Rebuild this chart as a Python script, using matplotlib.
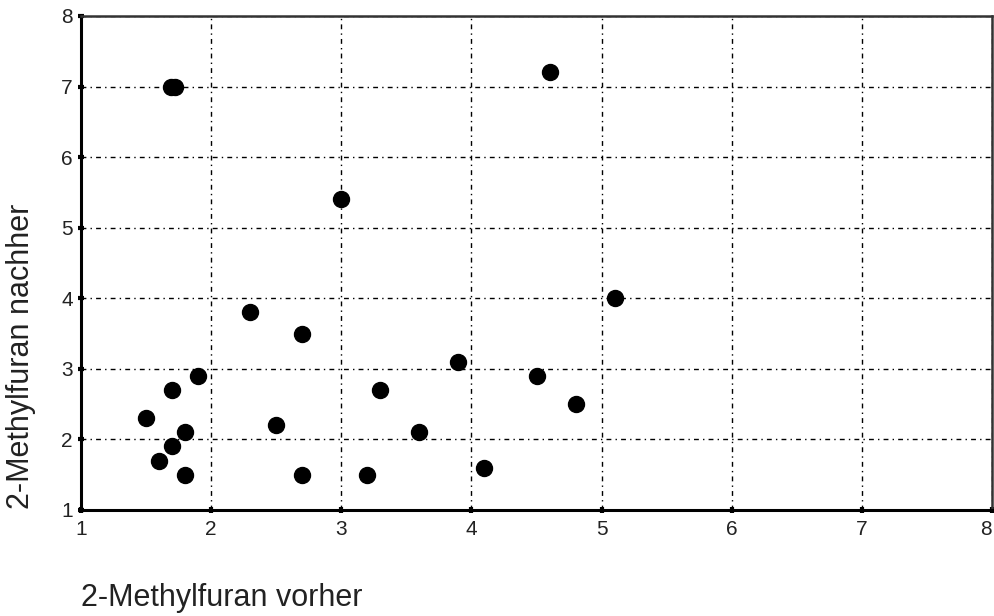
import matplotlib
matplotlib.use('Agg')
import matplotlib.pyplot as plt

# 2-Methylfuran values before / after
vorher = [1.69, 1.72, 4.6, 3.0, 5.1, 2.3, 2.7, 3.9, 4.5, 3.3, 4.8, 1.7, 1.9,
          1.5, 1.8, 1.7, 1.6, 1.8, 2.5, 3.6, 2.7, 3.2, 4.1]
nachher = [7.0, 7.0, 7.2, 5.4, 4.0, 3.8, 3.5, 3.1, 2.9, 2.7, 2.5, 2.7, 2.9,
           2.3, 2.1, 1.9, 1.7, 1.5, 2.2, 2.1, 1.5, 1.5, 1.6]
ticks = [1, 2, 3, 4, 5, 6, 7, 8]

plt.rcParams['font.family'] = ['Liberation Sans', 'DejaVu Sans']

fig = plt.figure(figsize=(9.95, 6.16), dpi=100)
ax = fig.add_axes([0.0814, 0.1721, 0.9156, 0.802])

ax.plot(vorher, nachher, 'o', color='black', markersize=11.5, zorder=3,
        linestyle='none')

ax.set_xlim(1, 8)
ax.set_ylim(1, 8)
ax.set_xticks(ticks)
ax.set_yticks(ticks)
ax.grid(True, color='black', linewidth=1.0, linestyle=(0, (3.5, 3, 1, 3)))
ax.tick_params(direction='inout', length=4, width=3, labelsize=15,
               labelcolor='#222222')
ax.tick_params(axis='x', pad=5)
ax.tick_params(axis='y', pad=4)
# last x label sits inside the figure edge
ax.get_xticklabels()[-1].set_horizontalalignment('right')

for side in ['left', 'bottom']:
    ax.spines[side].set_linewidth(2.2)
for side in ['top', 'right']:
    ax.spines[side].set_linewidth(1.8)
    ax.spines[side].set_color('#333333')

fig.text(0.0211, 0.422, '2-Methylfuran nachher', fontsize=22, rotation=90,
         ha='center', va='center', color='#222222')
fig.text(0.0814, 0.0162, '2-Methylfuran vorher', fontsize=22, ha='left',
         va='baseline', color='#222222')

fig.savefig('out.png', dpi=100)
